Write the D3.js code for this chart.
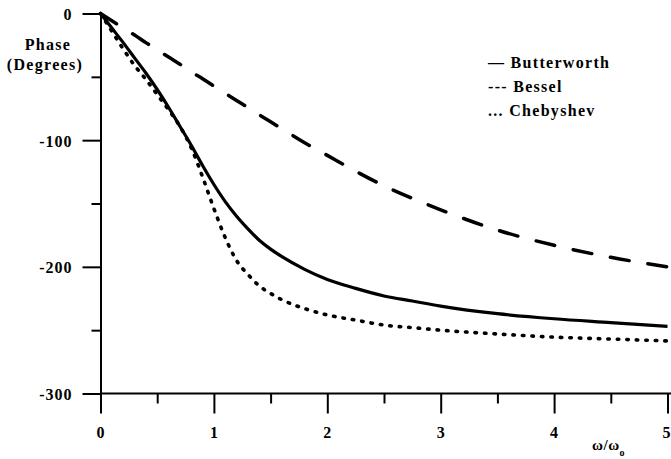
<!DOCTYPE html>
<html>
<head>
<meta charset="utf-8">
<script src="https://cdn.jsdelivr.net/npm/d3@7/dist/d3.min.js"></script>
<style>
  html, body { margin: 0; padding: 0; background: #fff; }
  svg { display: block; }
  text { font-family: "Liberation Serif", "Times New Roman", serif; font-weight: bold; fill: #000; }
</style>
</head>
<body>
<svg id="chart" width="671" height="459"></svg>
<script>
// ---- data ----
const omega = [0,0.1,0.2,0.3,0.4,0.5,0.6,0.7,0.8,0.9,1.0,1.1,1.2,1.3,1.4,1.5,1.6,1.8,2.0,2.25,2.5,2.75,3.0,3.5,4.0,4.5,5.0];
const butterworth = [0,-11.5,-23,-35,-47,-60,-74,-89,-104,-120,-135,-148.5,-160,-170,-179,-186,-192,-202,-210,-217,-223,-227,-231,-237,-241,-244,-247];
const bessel = [0,-5.7,-11.5,-17,-23,-28.6,-34.4,-40,-46,-51.5,-57.3,-63,-68.7,-74.3,-80,-85.5,-91,-102,-112,-124.5,-136,-146,-155,-171,-183,-192.5,-200];
const chebyshev = [0,-14,-28,-41,-52,-64,-76,-89,-106,-129,-154,-177,-195,-206,-215,-221,-226,-233,-238,-242,-246,-248,-250,-253,-255.5,-257,-258.5];
const xTicks = [0,1,2,3,4,5];
const xMinorTicks = [0.5,1.5,2.5,3.5,4.5];
const yTicks = [0,-100,-200,-300];
const yMinorTicks = [-50,-150,-250];
const legendLabels = ["\u2014 Butterworth", "--- Bessel", "... Chebyshev"];
const yTitle = ["Phase", "(Degrees)"];

// ---- drawing ----
const W = 671, H = 459;
const svg = d3.select("#chart");
const x = d3.scaleLinear().domain([0,5]).range([100.5, 667.5]);
const y = d3.scaleLinear().domain([0,-300]).range([13.5, 393.5]);

const FS = 16;
const fmt = d => String(d);

// Y axis major
const yAxis = svg.append("g").attr("transform", `translate(${x(0)},0)`)
  .call(d3.axisLeft(y).tickValues(yTicks).tickSize(18).tickSizeOuter(0).tickPadding(10).tickFormat(fmt));
// Y axis minor
svg.append("g").attr("transform", `translate(${x(0)},0)`)
  .call(d3.axisLeft(y).tickValues(yMinorTicks).tickSize(9).tickSizeOuter(0).tickFormat(""))
  .call(g => g.select(".domain").remove());

// X axis major
const xAxis = svg.append("g").attr("transform", `translate(0,${y(-300)})`)
  .call(d3.axisBottom(x).tickValues(xTicks).tickSize(20).tickSizeOuter(0).tickFormat(fmt));
xAxis.select(".domain").remove();
// X axis minor
svg.append("g").attr("transform", `translate(0,${y(-300)})`)
  .call(d3.axisBottom(x).tickValues(xMinorTicks).tickSize(10).tickSizeOuter(0).tickFormat(""))
  .call(g => g.select(".domain").remove());
// x axis base line, running to the right edge
svg.append("line")
  .attr("x1", x(0)).attr("x2", W)
  .attr("y1", y(-300)).attr("y2", y(-300))
  .attr("stroke", "#000").attr("stroke-width", 2);

svg.selectAll(".domain, .tick line").attr("stroke", "#000").attr("stroke-width", 2);
svg.selectAll(".tick text")
  .style("font-family", '"Liberation Serif", "Times New Roman", serif')
  .style("font-weight", "bold")
  .style("font-size", FS + "px")
  .style("letter-spacing", "1px")
  .attr("fill", "#000");
yAxis.selectAll(".tick text").attr("dy", "0.38em");
xAxis.selectAll(".tick text").attr("y", 33).attr("dy", "0.71em");
xAxis.selectAll(".tick").filter(d => d === 5).select("text")
  .attr("text-anchor", "end").style("letter-spacing", "0px").attr("x", W - 1 - x(5));

// Curves
const line = (vals) => d3.line()
  .x((d, i) => x(omega[i]))
  .y(d => y(d))
  .curve(d3.curveMonotoneX)(vals);

svg.append("path").attr("d", line(bessel))
  .attr("fill", "none").attr("stroke", "#000").attr("stroke-width", 3.5)
  .attr("stroke-linecap", "round").attr("stroke-dasharray", "19,19");

svg.append("path").attr("d", line(chebyshev))
  .attr("fill", "none").attr("stroke", "#000").attr("stroke-width", 3.6)
  .attr("stroke-linecap", "round").attr("stroke-dasharray", "1.5,8");

svg.append("path").attr("d", line(butterworth))
  .attr("fill", "none").attr("stroke", "#000").attr("stroke-width", 3.2);

// Y title
svg.append("text").attr("x", 48).attr("y", 50).attr("text-anchor", "middle")
  .style("font-size", FS + "px").style("letter-spacing", "1.3px").text(yTitle[0]);
svg.append("text").attr("x", 45).attr("y", 70).attr("text-anchor", "middle")
  .style("font-size", FS + "px").style("letter-spacing", "1.3px").text(yTitle[1]);

// Legend
const legY = [68, 92, 116];
legendLabels.forEach((t, i) => {
  svg.append("text").attr("x", 488).attr("y", legY[i])
    .style("font-size", "16px").style("letter-spacing", "1.3px").text(t);
});

// X title: ω/ωo
const xt = svg.append("text").attr("x", 592).attr("y", 450)
  .style("font-size", "15px").style("letter-spacing", "0.5px");
xt.append("tspan").text("\u03c9/\u03c9");
xt.append("tspan").attr("dy", 6).style("font-size", "10px").text("o");
</script>
</body>
</html>
